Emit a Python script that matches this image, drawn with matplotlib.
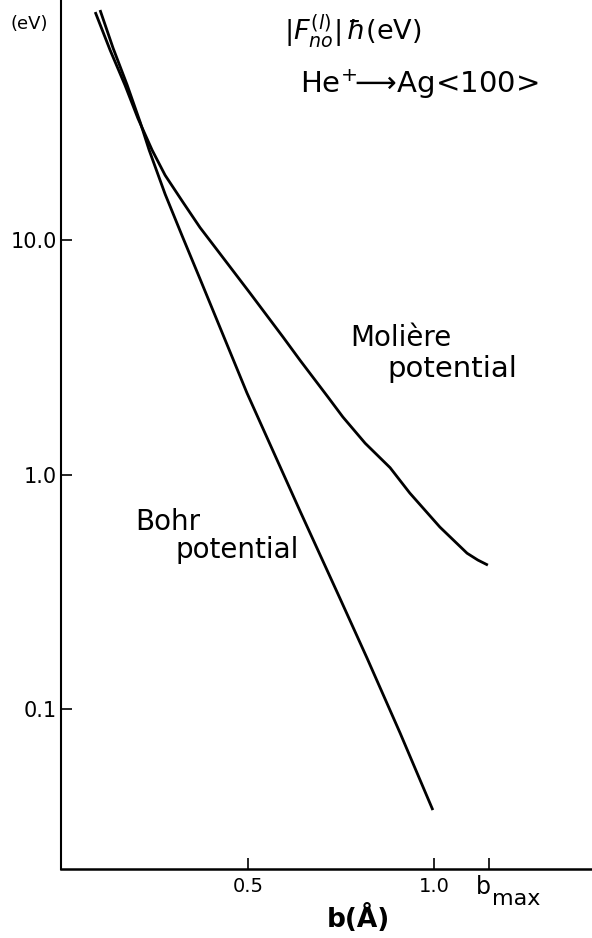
import numpy as np
import matplotlib
matplotlib.use("Agg")
from matplotlib import pyplot as plt

# Values (b in Angstrom, |F| hbar in eV)
bohr_b = [0.102, 0.137, 0.175, 0.210, 0.234, 0.277, 0.323, 0.371, 0.497,
          0.640, 0.747, 0.820, 0.909, 0.997]
bohr_f = [95.7, 65.9, 45.8, 31.8, 24.2, 15.7, 10.4, 6.82, 2.23,
          0.698, 0.297, 0.165, 0.079, 0.0371]

moliere_b = [0.089, 0.129, 0.169, 0.204, 0.242, 0.277, 0.325, 0.371, 0.417, 0.505,
             0.594, 0.640, 0.715, 0.755, 0.815, 0.882, 0.935, 1.016, 1.089, 1.118, 1.145]
moliere_f = [93.8, 64.6, 45.8, 33.0, 24.2, 18.9, 14.5, 11.3, 9.07, 5.95,
             3.86, 3.07, 2.14, 1.76, 1.36, 1.07, 0.834, 0.597, 0.462, 0.432, 0.411]

x_ticks = [0.5, 1.0, 1.148]
x_tick_labels = ["0.5", "1.0", ""]
y_ticks = [0.1, 1.0, 10.0]
y_tick_labels = ["0.1", "1.0", "10.0"]

W, H = 592, 938
plt.rcParams["font.family"] = ["DejaVu Sans"]
plt.rcParams["mathtext.fontset"] = "dejavusans"

fig = plt.figure(figsize=(W / 100, H / 100), dpi=100)
ax = fig.add_axes([61 / W, 1 - 869 / H, 1 - 61 / W, 869 / H])

ax.plot(bohr_b, bohr_f, color="black", lw=2.0, solid_capstyle="butt", solid_joinstyle="round")
ax.plot(moliere_b, moliere_f, color="black", lw=2.0, solid_capstyle="butt", solid_joinstyle="round")

ax.set_yscale("log")
ax.set_xlim(-0.003, 1.425)
ax.set_ylim(0.0208, 105.6)

ax.set_yticks(y_ticks)
ax.set_yticklabels(y_tick_labels)
ax.yaxis.set_minor_locator(matplotlib.ticker.NullLocator())
ax.set_xticks(x_ticks)
ax.set_xticklabels(x_tick_labels)

ax.tick_params(axis="both", direction="in", length=8, width=1.2, labelsize=14, pad=6)
ax.tick_params(axis="y", pad=3, labelsize=15)
for side in ("top", "right"):
    ax.spines[side].set_visible(False)
ax.spines["left"].set_linewidth(1.5)
ax.spines["bottom"].set_linewidth(1.8)


def put(px, py, s, **kw):
    fig.text(px / W, 1 - py / H, s, **kw)


put(10, 24, "(eV)", fontsize=13, va="center", ha="left")
put(284, 31, r"$|F_{no}^{(l)}|\,\hbar$(eV)", fontsize=19.5, va="center", ha="left")
put(300, 84, r"He$^{+}\!\!\longrightarrow\!$Ag<100>", fontsize=21, va="center", ha="left")

put(350, 338, "Molière", fontsize=20, va="center", ha="left")
put(387, 369, "potential", fontsize=21, va="center", ha="left")
put(135, 522, "Bohr", fontsize=20, va="center", ha="left")
put(176, 550, "potential", fontsize=20, va="center", ha="left")

put(476, 887, "b", fontsize=17, va="center", ha="left")
put(492, 899, "max", fontsize=16, va="center", ha="left")
put(358, 918, "b(Å)", fontsize=19, fontweight="bold", va="center", ha="center")

fig.savefig("out.png", dpi=100)
